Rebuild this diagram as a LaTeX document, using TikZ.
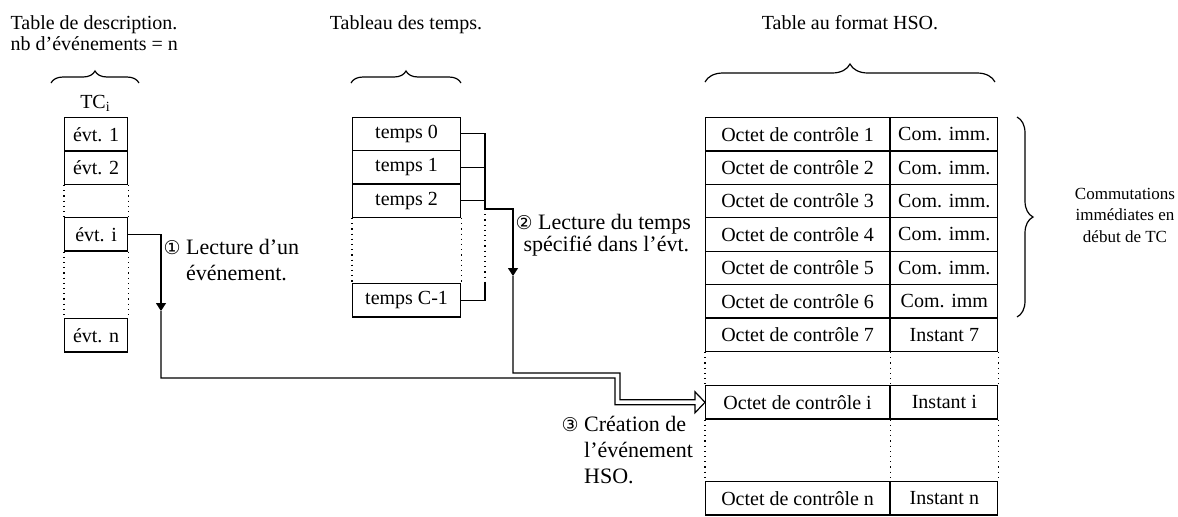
\documentclass[tikz,border=0pt]{standalone}
\usepackage{fontspec}
\setmainfont{Liberation Serif}
\newfontfamily\circfont{DejaVu Sans}
\usetikzlibrary{positioning,arrows.meta,decorations.pathreplacing}

\newcommand{\circnum}[1]{{\circfont\fontsize{9.5}{9.5}\selectfont #1}}

\begin{document}
\begin{tikzpicture}[x=0.5pt,y=-0.5pt,line width=0.6pt,
  every node/.style={font=\fontsize{10}{10.5}\selectfont, inner sep=0pt},
  cell/.style={draw, anchor=north west, minimum height=16.7pt},
  evtcell/.style={cell, minimum width=31.5pt},
  tpscell/.style={cell, minimum width=54pt},
  octcell/.style={cell, minimum width=92pt},
  valcell/.style={cell, minimum width=53.5pt},
  gap/.style={dotted},
  lbl/.style={font=\fontsize{11}{13}\selectfont, anchor=north west},
  accol/.style={decorate, decoration={brace, amplitude=#1}}]
  \useasboundingbox (0,0) rectangle (1178,516);

  % titles
  \node[anchor=north west, align=left] (tdesc) at (10,15) {Table de description.\\nb d'événements = n};
  \node[anchor=north] (ttps) at (406,15) {Tableau des temps.};
  \node[anchor=north] (thso) at (850,15) {Table au format HSO.};

  % braces
  \draw[accol=6pt] (51,83) -- (139,83);
  \draw[accol=6pt] (351,83) -- (461,83);
  \draw[accol=9pt] (705,82) -- (995,82);
  \draw[accol=8pt] (1017,117) -- (1017,317);

  % description table
  \node (tci) at (95.5,103) {TC\textsubscript{i}};
  \node[evtcell] (e1) at (64,117) {évt. 1};
  \node[evtcell] (e2) at (64,150.4) {évt. 2};
  \node[evtcell] (ei) at (64,217) {évt. i};
  \node[evtcell] (en) at (64,318) {évt. n};
  \draw[gap] (e2.south west) -- (ei.north west);
  \draw[gap] (e2.south east) -- (ei.north east);
  \draw[gap] (ei.south west) -- (en.north west);
  \draw[gap] (ei.south east) -- (en.north east);

  % time table
  \node[tpscell] (t0) at (352,116.5) {temps 0};
  \node[tpscell] (t1) at (352,149.9) {temps 1};
  \node[tpscell] (t2) at (352,183.3) {temps 2};
  \node[tpscell] (tc) at (352,283) {temps C-1};
  \draw[gap] (t2.south west) -- (tc.north west);
  \draw[gap] (t2.south east) -- (tc.north east);

  % HSO table
  \foreach \k/\v in {1/Com. imm.,2/Com. imm.,3/Com. imm.,4/Com. imm.,5/Com. imm.,6/Com. imm,7/Instant 7} {
    \node[octcell] (o\k) at (705,{117+(\k-1)*33.4}) {Octet de contrôle \k};
    \node[valcell] (v\k) at (o\k.north east) {\v};
  }
  \node[octcell] (oi) at (705,385) {Octet de contrôle i};
  \node[valcell] (vi) at (oi.north east) {Instant i};
  \node[octcell] (on) at (705,481) {Octet de contrôle n};
  \node[valcell] (vn) at (on.north east) {Instant n};
  \draw[gap] (o7.south west) -- (oi.north west);
  \draw[gap] (o7.south east) -- (oi.north east);
  \draw[gap] (v7.south east) -- (vi.north east);
  \draw[gap] (oi.south west) -- (on.north west);
  \draw[gap] (oi.south east) -- (on.north east);
  \draw[gap] (vi.south east) -- (vn.north east);

  % connectors
  \coordinate (bus) at (485,0);
  \coordinate (bout) at (485,209);
  \coordinate (bgap) at (485,283);
  \coordinate (a1) at (161,311);
  \coordinate (a2) at (513,276);
  \coordinate (ja) at (620,373);
  \coordinate (jb) at (615,378);
  \draw (t0.east) -- (t0.east -| bus) -- (bout);
  \draw (t1.east) -- (t1.east -| bus);
  \draw (t2.east) -- (t2.east -| bus);
  \draw[gap] (bout) -- (bgap);
  \draw (bgap) -- (tc.east -| bus) -- (tc.east);
  \draw[-{Triangle[length=4pt,width=5pt]}] (ei.east) -| (a1);
  \draw[-{Triangle[length=4pt,width=5pt]}] (bout) -| (a2);
  \draw (a2) |- (ja) |- ([xshift=-5pt,yshift=1.25pt]oi.west) -- ++(0,-8) -- (oi.west);
  \draw (a1) |- (jb) |- ([xshift=-5pt,yshift=-1.25pt]oi.west) -- ++(0,8) -- (oi.west);

  % labels
  \node[lbl] (l1) at (163,236) {\begin{tabular}{@{}l@{\ }l@{}}\circnum{①} & Lecture d'un\\ & événement.\end{tabular}};
  \node[anchor=north west, align=left, font=\fontsize{11}{11}\selectfont] (l2) at (515,214)
    {\circnum{②} Lecture du temps\\\hspace*{4pt}spécifié dans l'évt.};
  \node[lbl] (l3) at (561,413) {\begin{tabular}{@{}l@{\ }l@{}}\circnum{③} & Création de\\ & l'événement\\ & HSO.\end{tabular}};
  \node[align=center, font=\fontsize{8.5}{10.75}\selectfont] (comm) at (1125,215)
    {Commutations\\immédiates en\\début de TC};
\end{tikzpicture}
\end{document}
